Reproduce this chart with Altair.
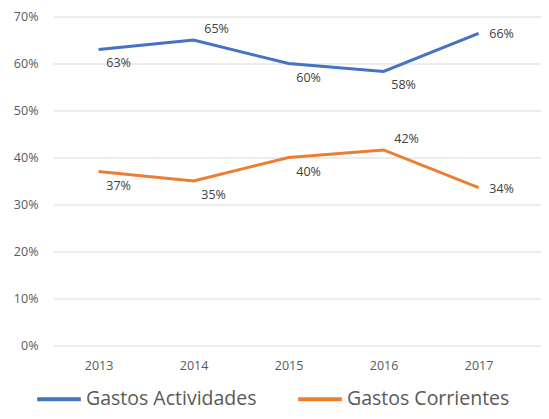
import altair as alt
import pandas as pd

years = [2013, 2014, 2015, 2016, 2017]
series_names = ["Gastos Actividades", "Gastos Corrientes"]
actividades = [0.63, 0.65, 0.60, 0.583, 0.664]
corrientes = [0.37, 0.35, 0.40, 0.416, 0.336]
label_pos_act = ["below", "above", "below", "below", "right"]
label_pos_cor = ["below", "below", "below", "above", "right"]
y_ticks = [0, 0.1, 0.2, 0.3, 0.4, 0.5, 0.6, 0.7]

rows = []
for vals, name, poss in [(actividades, series_names[0], label_pos_act),
                         (corrientes, series_names[1], label_pos_cor)]:
    for yr, v, p in zip(years, vals, poss):
        rows.append({"year": yr, "series": name, "value": v, "pos": p})
df = pd.DataFrame(rows)

FONT = "Open Sans"

base = alt.Chart(df)

x_enc = alt.X("year:Q", scale=alt.Scale(domain=[2012.52, 2017.657], nice=False, zero=False),
              axis=alt.Axis(values=years, format="d", title=None, grid=False, domain=False,
                            ticks=False, labelPadding=14, labelFontSize=12.5,
                            labelColor="#595959", labelFont=FONT))
y_enc = alt.Y("value:Q", scale=alt.Scale(domain=[0, 0.7], nice=False),
              axis=alt.Axis(values=y_ticks, format=".0%", title=None, grid=True,
                            gridColor="#d9d9d9", gridWidth=1, domain=False, ticks=False,
                            labelPadding=15, labelFontSize=12.5, labelColor="#595959",
                            labelFont=FONT))

lines = base.mark_line(strokeWidth=3).encode(
    x=x_enc,
    y=y_enc,
    color=alt.Color("series:N",
                    scale=alt.Scale(domain=series_names, range=["#4472C4", "#ED7D31"]),
                    legend=alt.Legend(title=None, orient="none", direction="horizontal",
                                      legendX=-18, legendY=358.5, symbolType="stroke",
                                      symbolSize=1900, symbolStrokeWidth=4,
                                      labelFontSize=19.5, labelFont=FONT, labelColor="#595959",
                                      labelOffset=3, columnPadding=33, labelLimit=300)),
)

def labels(pos, dx, dy):
    return base.transform_filter(alt.datum.pos == pos).mark_text(
        dx=dx, dy=dy, fontSize=12.5, font=FONT, color="#404040"
    ).encode(x="year:Q", y="value:Q", text=alt.Text("value:Q", format=".0%"))

chart = alt.layer(
    lines,
    labels("below", 20, 14),
    labels("above", 23, -11),
    labels("right", 23, 1),
).properties(
    width=488, height=329,
    autosize=alt.AutoSizeParams(type="none"),
    padding={"left": 45, "top": 8.5, "right": 0, "bottom": 65.5},
).configure_view(stroke=None)

chart.save("out.html", embed_options={"renderer": "svg", "actions": False})
